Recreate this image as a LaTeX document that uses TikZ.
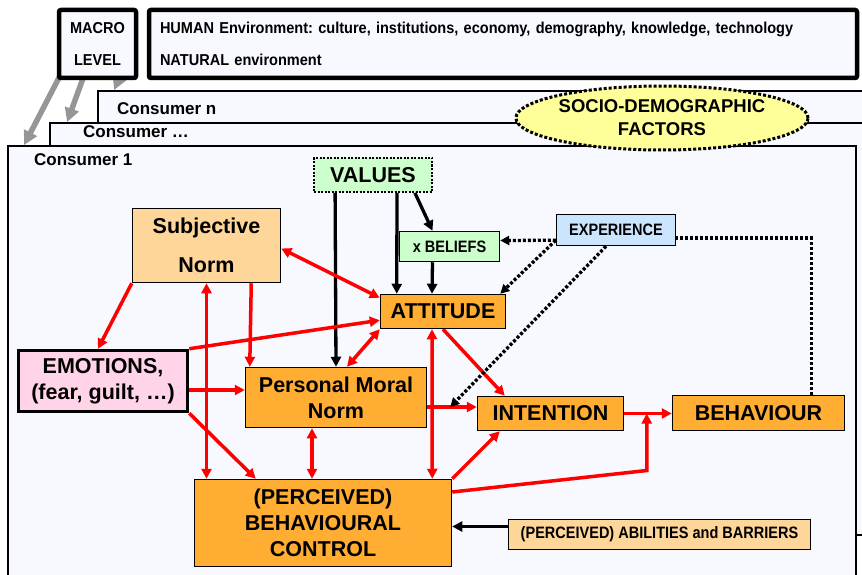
\documentclass[tikz,border=0pt]{standalone}
\usepackage{fontspec}
\setmainfont{Liberation Sans}
\newfontfamily\narrowsf[FakeStretch=0.88]{Liberation Sans}
\newfontfamily\topsf[FakeStretch=0.92]{Liberation Sans}
\usetikzlibrary{arrows.meta,shapes.geometric,calc}
\pgfdeclarelayer{bglayer}
\pgfdeclarelayer{edgelayer}
\pgfdeclarelayer{nodelayer}
\pgfsetlayers{bglayer,edgelayer,nodelayer,main}
\frenchspacing
\definecolor{pagebg}{RGB}{248,248,255}
\definecolor{boxorange}{RGB}{255,173,51}
\definecolor{paleorange}{RGB}{255,214,153}
\definecolor{palegreen}{RGB}{204,255,204}
\definecolor{paleblue}{RGB}{204,229,255}
\definecolor{palepink}{RGB}{255,212,232}
\definecolor{paleyellow}{RGB}{255,255,153}
\definecolor{arrowgray}{RGB}{150,150,150}
\newcommand\bigtxt{\fontsize{21.5}{26}\selectfont\bfseries}
\newcommand\midtxt{\topsf\fontsize{15.8}{32}\selectfont\bfseries}
\newcommand\constxt{\fontsize{17}{20}\selectfont\bfseries}
\newcommand\sociotxt{\fontsize{18.5}{23}\selectfont\bfseries}
\newcommand\smalltxt{\narrowsf\fontsize{16.5}{20}\selectfont\bfseries}
\tikzstyle{none}=[inner sep=0pt]
\tikzstyle{consbox}=[draw=black,line width=1.8pt,fill=pagebg,inner sep=0pt]
\tikzstyle{macrobox}=[draw=black,line width=4.5pt,rounded corners=2pt,fill=pagebg,inner sep=0pt,font=\midtxt]
\tikzstyle{sociobox}=[ellipse,draw=black,line width=3pt,dash pattern=on 3pt off 2pt,fill=paleyellow,inner sep=0pt,align=center,font=\sociotxt]
\tikzstyle{valuesbox}=[draw=black,line width=1.8pt,dash pattern=on 2pt off 1.5pt,fill=palegreen,inner sep=0pt,font=\bigtxt]
\tikzstyle{orangebox}=[draw=black,line width=1.5pt,fill=boxorange,inner sep=0pt,align=center,font=\bigtxt]
\tikzstyle{palebox}=[draw=black,line width=1.5pt,inner sep=0pt,align=center,font=\smalltxt]
\tikzstyle{redarr}=[draw=red,line width=3.5pt,-{Triangle[length=10pt,width=10pt]}]
\tikzstyle{redboth}=[draw=red,line width=3.5pt,{Triangle[length=10pt,width=10pt]}-{Triangle[length=10pt,width=10pt]}]
\tikzstyle{blackarr}=[draw=black,line width=3.3pt,-{Triangle[length=10pt,width=10pt]}]
\tikzstyle{dotarr}=[draw=black,line width=3.3pt,dash pattern=on 3pt off 2pt,-{Triangle[length=9pt,width=9pt]}]
\tikzstyle{dotline}=[draw=black,line width=3.3pt,dash pattern=on 3pt off 2pt]
\tikzstyle{grayarr}=[draw=arrowgray,line width=5.5pt,-{Triangle[length=14pt,width=14pt]}]

\begin{document}
\begin{tikzpicture}[x=1pt,y=-1pt]
	\useasboundingbox (0,0) rectangle (862,575);
	\begin{pgfonlayer}{bglayer}
		\clip (0,0) rectangle (862,575);
		\node [style=consbox, minimum width=802, minimum height=429] (consn) at (499, 305.5) {};
		\node [style=consbox, minimum width=850, minimum height=412] (consdots) at (475, 329) {};
		\node [style=consbox, minimum width=848, minimum height=454] (cons1) at (432, 373) {};
	\end{pgfonlayer}
	\begin{pgfonlayer}{nodelayer}
		\node [style=none, anchor=west, font=\constxt] (lbln) at (117, 109) {Consumer n};
		\node [style=none, anchor=west, font=\constxt] (lbldots) at (83, 132) {Consumer …};
		\node [style=none, anchor=west, font=\constxt] (lbl1) at (34, 160) {Consumer 1};
		\node [style=macrobox, minimum width=77, minimum height=68, align=center] (macro) at (97.5, 44) {MACRO\\LEVEL};
		\node [style=macrobox, minimum width=708, minimum height=68, text width=686, align=left] (human) at (503, 44) {HUMAN Environment: culture, institutions, economy, demography, knowledge, technology\\NATURAL environment};
		\node [style=sociobox, minimum width=284, minimum height=64] (socio) at (662, 118) {SOCIO-DEMOGRAPHIC\\FACTORS};
		\node [style=valuesbox, minimum width=118, minimum height=34] (values) at (373, 175) {VALUES};
		\node [style=palebox, fill=palegreen, minimum width=100, minimum height=30] (beliefs) at (449.5, 246.5) {x BELIEFS};
		\node [style=palebox, fill=paleblue, minimum width=119, minimum height=31] (exper) at (616, 230) {EXPERIENCE};
		\node [style=orangebox, minimum width=125, minimum height=34] (attitude) at (443, 311.5) {ATTITUDE};
		\node [style=orangebox, fill=paleorange, minimum width=148, minimum height=74] (subj) at (206.5, 245.5) {Subjective\\[13pt]Norm};
		\node [style=orangebox, fill=palepink, line width=3.5pt, minimum width=169, minimum height=61] (emo) at (103, 381) {EMOTIONS,\\(fear, guilt, …)};
		\node [style=orangebox, minimum width=181, minimum height=60] (pmn) at (336, 397.5) {Personal Moral\\Norm};
		\node [style=orangebox, minimum width=146, minimum height=34] (intention) at (550.5, 413.5) {INTENTION};
		\node [style=orangebox, minimum width=172, minimum height=35] (behaviour) at (758.5, 413) {BEHAVIOUR};
		\node [style=orangebox, minimum width=257, minimum height=87] (pbc) at (323, 523) {(PERCEIVED)\\BEHAVIOURAL\\CONTROL};
		\node [style=palebox, fill=paleorange, minimum width=302, minimum height=30] (abil) at (659.5, 534.5) {(PERCEIVED) ABILITIES and BARRIERS};
		\coordinate (jm) at ($(pmn.east)+(23,9.5)$);
		\coordinate (jn) at ($(intention.east)+(22.5,0)$);
	\end{pgfonlayer}
	\begin{pgfonlayer}{edgelayer}
		% macro level onto the consumers
		\draw [style=grayarr] ($(macro.south west)+(3,-4)$) to ($(cons1.north west)+(17,0)$);
		\draw [style=grayarr] ($(macro.south west)+(27,-4)$) to ($(consdots.north west)+(18,0)$);
		\draw [style=grayarr] ($(macro.south east)+(-14,-14)$) to ($(consn.north west)+(17,0)$);
		% values and beliefs
		\draw [style=blackarr] ($(values.south west)+(22,0)$) to (pmn.north);
		\draw [style=blackarr] ($(values.south)+(24,0)$) to ($(attitude.north west)+(17,0)$);
		\draw [style=blackarr] ($(values.south east)+(-18,0)$) to ($(beliefs.north)+(-17,0)$);
		\draw [style=blackarr] ($(beliefs.south)+(-17,0)$) to ($(attitude.north)+(-11,0)$);
		\draw [style=blackarr] ($(abil.west)+(0,-8)$) to ($(pbc.east)+(0,3.5)$);
		% red links
		\draw [style=redboth] ($(subj.east)+(0,3)$) to ($(attitude.north west)+(0,4)$);
		\draw [style=redarr] (subj.south west) to ($(emo.north)+(-5,0)$);
		\draw [style=redboth] (subj.south) to (subj.south |- pbc.north);
		\draw [style=redarr] ($(subj.south east)+(-30,0)$) to ($(pmn.north west)+(5,0)$);
		\draw [style=redarr] (emo.north east) to ($(attitude.south west)+(0,-9)$);
		\draw [style=redarr] ($(emo.east)+(0,9)$) to ($(pmn.west)+(0,-7.5)$);
		\draw [style=redarr] (emo.south east) to ($(pbc.north west)+(62,0)$);
		\draw [style=redboth] (attitude.south west) to ($(pmn.north)+(11,0)$);
		\draw [style=redboth] ($(attitude.south)+(-11,0)$) to ($(pbc.north east)+(-20,0)$);
		\draw [style=redarr] (attitude.south) to ($(intention.north west)+(28,0)$);
		\draw [style=redarr] ($(pmn.east)+(0,9.5)$) to ($(intention.west)+(0,-6.5)$);
		\draw [style=redboth] ($(pmn.south)+(-24,0)$) to ($(pbc.north)+(-11,0)$);
		\draw [style=redarr] (pbc.north east) to ($(intention.south west)+(23,0)$);
		\draw [style=redarr] (intention.east) to (behaviour.west |- intention.east);
		\draw [style=redarr] ($(pbc.east)+(0,-31)$) -- ($(jn)+(0,57)$) -- (jn);
		% experience
		\draw [style=dotarr] ($(exper.south west)+(0,-6)$) to ($(beliefs.east)+(0,-6)$);
		\draw [style=dotarr] ($(exper.south west)+(0,-6)$) to ($(attitude.north east)+(-6,0)$);
		\draw [style=dotarr] ($(exper.south)+(-10,0)$) to (jm);
		\draw [style=dotline] ($(behaviour.north east)+(-34,0)$) |- ($(exper.east)+(0,8)$);
	\end{pgfonlayer}
\end{tikzpicture}
\end{document}
